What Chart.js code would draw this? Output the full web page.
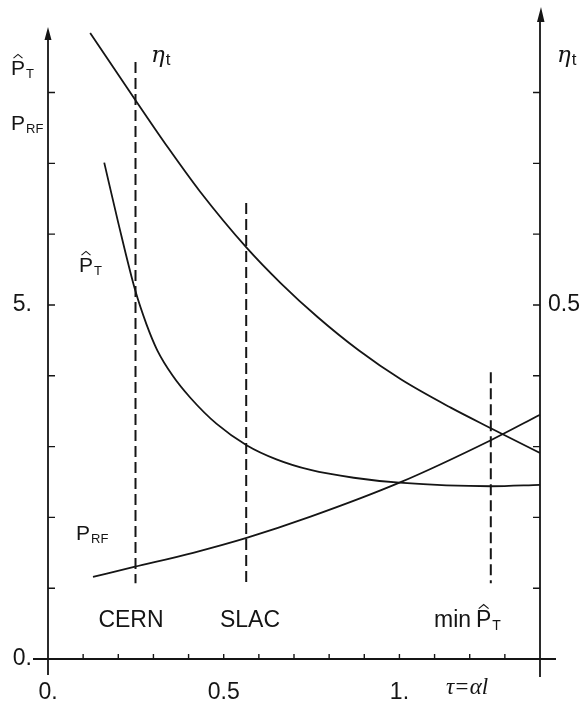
<!DOCTYPE html>
<html>
<head>
<meta charset="utf-8">
<script src="https://cdn.jsdelivr.net/npm/chart.js@4"></script>
<style>
  html, body { margin: 0; padding: 0; background: #fff; }
  #wrap { width: 584px; height: 704px; }
</style>
</head>
<body>
<div id="wrap"><canvas id="chart" width="584" height="704"></canvas></div>
<script>
// tau = alpha*l on the x axis
var tauEta = [0.12, 0.248, 0.342, 0.433, 0.565, 0.662, 0.767, 0.884, 1.004, 1.146, 1.26, 1.4];
var etaT   = [0.884, 0.790, 0.722, 0.660, 0.581, 0.531, 0.483, 0.436, 0.395, 0.355, 0.326, 0.291];

var tauPT = [0.16, 0.2, 0.248, 0.28, 0.311, 0.355, 0.405, 0.48, 0.565, 0.65, 0.747, 0.87, 1.0, 1.26, 1.4];
var pT    = [7.01, 6.16, 5.21, 4.73, 4.36, 4.0, 3.69, 3.32, 3.02, 2.82, 2.67, 2.56, 2.49, 2.44, 2.46];

var tauRF = [0.128, 0.245, 0.413, 0.565, 0.747, 1.0, 1.26, 1.4];
var pRF   = [1.16, 1.30, 1.50, 1.71, 2.01, 2.49, 3.09, 3.45];

// vertical dashed markers: CERN, SLAC, min P_T
var markTau = [0.249, 0.564, 1.26];
var markTop = [8.43, 6.44, 4.05];
var markBottom = 1.07;

var xTickLabels = { 0: '0.', 5: '0.5', 10: '1.' };
var yTickLabels = { 0: '0.', 5: '5.' };
var y2TickLabels = { 5: '0.5' };

var INK = '#151515';
var SANS = '"Liberation Sans", Arial, sans-serif';

function pts(xs, ys) {
  return xs.map(function(v, i){ return {x: v, y: ys[i]}; });
}

var datasets = [
  { data: pts(tauEta, etaT), yAxisID: 'y2' },
  { data: pts(tauPT, pT), yAxisID: 'y' },
  { data: pts(tauRF, pRF), yAxisID: 'y' }
].map(function(d){
  d.borderColor = INK; d.borderWidth = 1.8; d.pointRadius = 0;
  d.fill = false; d.cubicInterpolationMode = 'monotone';
  return d;
});
markTau.forEach(function(t, i){
  datasets.push({
    data: [{x: t, y: markTop[i]}, {x: t, y: markBottom}],
    yAxisID: 'y', borderColor: INK, borderWidth: 2, borderDash: [11, 5],
    pointRadius: 0, fill: false
  });
});

// P with hat / subscript, eta with subscript
function sym(ctx, x, base, main, sub, hat, size, serif, subScale) {
  ctx.font = (serif ? 'italic ' + size + 'px "DejaVu Serif", serif' : size + 'px ' + SANS);
  ctx.textAlign = 'left'; ctx.textBaseline = 'alphabetic';
  ctx.fillText(main, x, base);
  var w = ctx.measureText(main).width;
  if (hat) {
    ctx.beginPath();
    ctx.lineWidth = 1.1;
    ctx.moveTo(x + w * 0.18, base - size * 0.8);
    ctx.lineTo(x + w * 0.5, base - size * 0.98);
    ctx.lineTo(x + w * 0.82, base - size * 0.8);
    ctx.stroke();
  }
  ctx.font = Math.round(size * (subScale || 0.6)) + 'px ' + SANS;
  ctx.fillText(sub, x + w + 1, base + size * 0.15);
}

function noPad(s) {
  s.paddingTop = 0; s.paddingBottom = 0; s.paddingLeft = 0; s.paddingRight = 0;
}

var axesPlugin = {
  id: 'axes',
  afterDraw: function(chart) {
    var ctx = chart.ctx, xs = chart.scales.x, ys = chart.scales.y, y2 = chart.scales.y2;
    var X0 = xs.getPixelForValue(0), X1 = xs.getPixelForValue(1.4), Y0 = ys.getPixelForValue(0);
    ctx.save();
    ctx.strokeStyle = INK; ctx.fillStyle = INK; ctx.lineWidth = 1.8;
    ctx.beginPath();
    ctx.moveTo(X0, Y0 + 16); ctx.lineTo(X0, 34);
    ctx.moveTo(X1, Y0 + 18); ctx.lineTo(X1, 14);
    ctx.moveTo(X0 - 15, Y0); ctx.lineTo(X1 + 16, Y0);
    ctx.stroke();
    // arrow heads
    ctx.beginPath();
    ctx.moveTo(X0, 27); ctx.lineTo(X0 - 3.5, 40); ctx.lineTo(X0 + 3.5, 40); ctx.closePath();
    ctx.moveTo(X1 + 1, 7); ctx.lineTo(X1 - 3, 22); ctx.lineTo(X1 + 4.5, 22); ctx.closePath();
    ctx.fill();
    // inward tick marks
    ctx.lineWidth = 1.4;
    ctx.beginPath();
    ys.ticks.forEach(function(t){
      if (t.value >= 1 && t.value <= 8) {
        var p = ys.getPixelForValue(t.value);
        ctx.moveTo(X0, p); ctx.lineTo(X0 + 7, p);
      }
    });
    y2.ticks.forEach(function(t){
      var k = Math.round(t.value * 10);
      if (k >= 1 && k <= 8) {
        var p = y2.getPixelForValue(t.value);
        ctx.moveTo(X1 - 7, p); ctx.lineTo(X1, p);
      }
    });
    xs.ticks.forEach(function(t){
      var k = Math.round(t.value * 10);
      if (k >= 1 && k <= 13) {
        var p = xs.getPixelForValue(t.value);
        ctx.moveTo(p, Y0); ctx.lineTo(p, Y0 - 5);
      }
    });
    ctx.stroke();

    // axis titles
    sym(ctx, 11, 75, 'P', 'T', true, 21);
    sym(ctx, 11, 130, 'P', 'RF', false, 21);
    sym(ctx, 79, 272, 'P', 'T', true, 21);
    sym(ctx, 76, 540, 'P', 'RF', false, 21);
    sym(ctx, 151, 62, 'η', 't', false, 23, true, 0.75);
    sym(ctx, 557, 62, 'η', 't', false, 23, true, 0.75);

    ctx.font = '23px ' + SANS;
    ctx.textAlign = 'center'; ctx.textBaseline = 'alphabetic';
    ctx.fillText('CERN', 131, 627);
    ctx.fillText('SLAC', 250, 627);
    ctx.textAlign = 'left';
    ctx.fillText('min', 434, 627);
    sym(ctx, 476, 627, 'P', 'T', true, 23);

    ctx.font = 'italic 23px "Liberation Serif", serif';
    ctx.textAlign = 'center';
    ctx.fillText('τ=αl', 467, 694);
    ctx.restore();
  }
};

new Chart('chart', {
  type: 'line',
  data: { datasets: datasets },
  options: {
    responsive: false,
    animation: false,
    layout: { padding: { top: 7.6, left: 0, right: 0, bottom: 0 } },
    plugins: { legend: { display: false }, tooltip: { enabled: false } },
    scales: {
      x: {
        type: 'linear', min: 0, max: 1.4,
        grid: { display: false }, border: { display: false },
        afterFit: function(s){ s.height = 45; noPad(s); },
        ticks: {
          stepSize: 0.1, autoSkip: false, maxRotation: 0, padding: 12,
          color: INK, font: { family: SANS, size: 23 },
          callback: function(v){ return xTickLabels[Math.round(v * 10)] || ''; }
        }
      },
      y: {
        position: 'left', min: 0, max: 9.2,
        grid: { display: false }, border: { display: false },
        afterFit: function(s){ s.width = 48; noPad(s); },
        ticks: {
          stepSize: 1, padding: 8,
          color: INK, font: { family: SANS, size: 23 },
          callback: function(v){ return yTickLabels[v] || ''; }
        }
      },
      y2: {
        position: 'right', min: 0, max: 0.92,
        grid: { display: false }, border: { display: false },
        afterFit: function(s){ s.width = 44; noPad(s); },
        ticks: {
          stepSize: 0.1, padding: 0,
          color: INK, font: { family: SANS, size: 23 },
          callback: function(v){ return y2TickLabels[Math.round(v * 10)] || ''; }
        }
      }
    }
  },
  plugins: [axesPlugin]
});
</script>
</body>
</html>
